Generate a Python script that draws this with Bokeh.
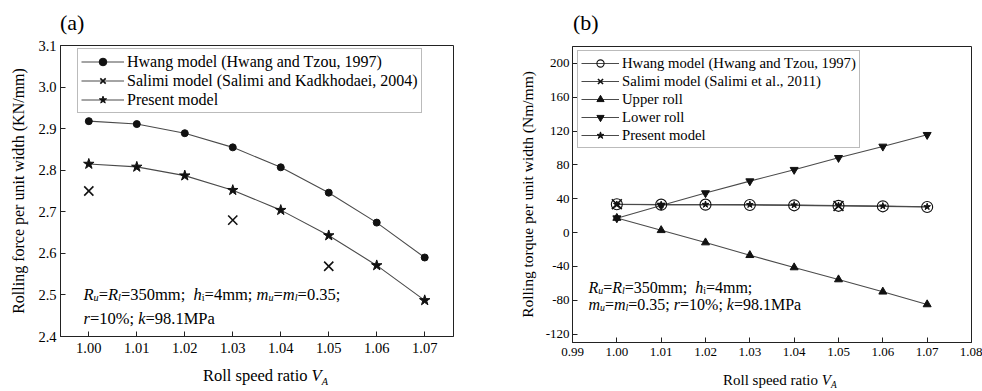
from bokeh.plotting import figure
from bokeh.models import (Range1d, FixedTicker, Label, Legend, LegendItem,
                          NumeralTickFormatter, Div)
from bokeh.layouts import row, column
from bokeh.embed import file_html
from bokeh.resources import INLINE

# ---------------- data ----------------
speed_ratio = [1.00, 1.01, 1.02, 1.03, 1.04, 1.05, 1.06, 1.07]

# panel (a): rolling force per unit width (KN/mm)
force_hwang = [2.918, 2.911, 2.889, 2.855, 2.807, 2.746, 2.674, 2.590]
force_present = [2.815, 2.808, 2.787, 2.752, 2.704, 2.643, 2.571, 2.487]
salimi_a_ratio = [1.00, 1.03, 1.05]
force_salimi = [2.750, 2.680, 2.569]

# panel (b): rolling torque per unit width (Nm/mm)
torque_hwang = [33.4, 33.0, 33.0, 32.6, 32.2, 31.6, 31.0, 30.2]
salimi_b_ratio = [1.00, 1.05]
torque_salimi = [33.5, 31.5]
torque_upper = [17.2, 2.7, -11.8, -26.8, -41.3, -55.5, -70.0, -85.0]
torque_lower = [17.0, 32.0, 46.7, 60.8, 74.3, 88.4, 101.8, 115.6]
torque_present = [33.2, 33.0, 33.2, 33.0, 32.6, 32.0, 31.3, 30.5]

ticks_a_x = [1.00, 1.01, 1.02, 1.03, 1.04, 1.05, 1.06, 1.07]
ticks_a_y = [2.4, 2.5, 2.6, 2.7, 2.8, 2.9, 3.0, 3.1]
ticks_b_x = [0.99, 1.00, 1.01, 1.02, 1.03, 1.04, 1.05, 1.06, 1.07, 1.08]
ticks_b_y = [-120, -80, -40, 0, 40, 80, 120, 160, 200]

FONT = "Liberation Serif"
LINE = "#4a4a4a"
INK = "#111111"

# Times / Liberation Serif advance widths (1/1000 em)
REG = {' ': 250, '%': 833, '(': 333, ')': 333, ',': 250, '-': 333, '.': 250,
       '/': 278, ';': 278, '=': 564, 'A': 722, 'K': 722, 'M': 889, 'N': 722,
       'P': 556, 'R': 667, 'V': 722, 'a': 444, 'd': 500, 'e': 444, 'f': 333,
       'g': 500, 'h': 500, 'i': 278, 'k': 500, 'l': 278, 'm': 778, 'n': 500,
       'o': 500, 'p': 500, 'r': 333, 's': 389, 't': 278, 'u': 500, 'w': 722}
ITA = {'R': 611, 'h': 500, 'i': 278, 'k': 444, 'l': 278, 'm': 722, 'r': 389,
       'u': 500, 'V': 611, 'A': 611}


def tw(s, italic, size):
    tab = ITA if italic else REG
    return sum(tab.get(c, REG.get(c, 500)) for c in s) * size / 1000.0


def rich(p, segs, dx, dy, size):
    """segments placed relative to the frame's bottom-left corner (pixels)"""
    x = dx
    for txt, italic, sub in segs:
        fs = size * 0.62 if sub else size
        yo = dy - (0.24 * size if sub else 0)
        p.add_layout(Label(x=p.x_range.start, y=p.y_range.start,
                           x_offset=x, y_offset=yo, text=txt,
                           text_font=FONT, text_font_size=f"{fs:.1f}px",
                           text_font_style="italic" if italic else "normal",
                           text_baseline="alphabetic", text_align="left",
                           text_color="black"))
        x += tw(txt, italic, fs)


def style(p, tick_size, label_size, xt, yt, xfmt, yfmt, label_standoff):
    p.outline_line_color = "#222222"
    p.outline_line_width = 1
    p.xgrid.visible = False
    p.ygrid.visible = False
    p.background_fill_color = "white"
    p.border_fill_color = "white"
    for ax in (p.xaxis[0], p.yaxis[0]):
        ax.axis_line_color = "#222222"
        ax.major_tick_line_color = "#222222"
        ax.major_tick_in = 5
        ax.major_tick_out = 0
        ax.minor_tick_line_color = None
        ax.major_label_text_font = FONT
        ax.major_label_text_font_size = tick_size
        ax.major_label_text_color = "black"
        ax.axis_label_text_font = FONT
        ax.axis_label_text_font_size = label_size
        ax.axis_label_text_font_style = "normal"
        ax.axis_label_text_color = "black"
    p.xaxis[0].ticker = FixedTicker(ticks=xt)
    p.yaxis[0].ticker = FixedTicker(ticks=yt)
    p.xaxis[0].formatter = NumeralTickFormatter(format=xfmt)
    p.yaxis[0].formatter = NumeralTickFormatter(format=yfmt)
    p.xaxis[0].major_label_standoff = 6
    p.yaxis[0].major_label_standoff = 4
    p.yaxis[0].axis_label_standoff = label_standoff


def html_div(html, width, height, pad_top, pad_left, size):
    return Div(text=(f"<div style=\"font-family:'{FONT}', 'Times New Roman', serif; "
                     f"font-size:{size}px; line-height:{size}px; "
                     f"padding:{pad_top}px 0 0 {pad_left}px; "
                     f"white-space:nowrap; color:black; margin:0;\">{html}</div>"),
               width=width, height=height, margin=0)


SUB = ("<span style=\"font-style:italic; font-size:0.62em; position:relative; "
       "top:0.32em; line-height:0;\">A</span>")
XLABEL = "Roll speed ratio <i>V</i>" + SUB

# ---------------- panel (a) ----------------
pa = figure(width=490, height=327, output_backend="svg", toolbar_location=None,
            x_range=Range1d(0.9941, 1.0760), y_range=Range1d(2.4, 3.1),
            min_border_left=60, min_border_right=37, min_border_top=11,
            min_border_bottom=25)
style(pa, "14.5px", "16px", ticks_a_x, ticks_a_y, "0.00", "0.0", 8)
pa.yaxis[0].axis_label = "Rolling force per unit width (KN/mm)"

la_h = pa.line(speed_ratio, force_hwang, line_color=LINE, line_width=1.1)
ma_h = pa.scatter(speed_ratio, force_hwang, marker="circle", size=7,
                  fill_color=INK, line_color=INK)
la_s = pa.line(salimi_a_ratio, force_salimi, line_color=LINE, line_width=1.1,
               visible=False)
ma_s = pa.scatter(salimi_a_ratio, force_salimi, marker="x", size=13,
                  line_color=INK, line_width=1.6)
la_p = pa.line(speed_ratio, force_present, line_color=LINE, line_width=1.1)
ma_p = pa.scatter(speed_ratio, force_present, marker="star", size=11,
                  fill_color=INK, line_color=INK)

leg_a = Legend(items=[
    LegendItem(label="Hwang model (Hwang and Tzou, 1997)", renderers=[la_h, ma_h]),
    LegendItem(label="Salimi model (Salimi and Kadkhodaei, 2004)", renderers=[la_s, ma_s]),
    LegendItem(label="Present model", renderers=[la_p, ma_p]),
], location=(17, 223), padding=3, spacing=0, label_height=19, glyph_height=19,
    glyph_width=43, label_standoff=3, label_text_font=FONT,
    label_text_font_size="16px", label_text_color="black",
    border_line_color="#777777", border_line_width=1,
    background_fill_color="white", background_fill_alpha=1.0, margin=0)
pa.add_layout(leg_a, "center")

rich(pa, [("R", True, False), ("u", True, True), ("=", False, False),
          ("R", True, False), ("l", True, True), ("=350mm;  ", False, False),
          ("h", True, False), ("i", False, True), ("=4mm; ", False, False),
          ("m", True, False), ("u", True, True), ("=", False, False),
          ("m", True, False), ("l", True, True), ("=0.35;", False, False)],
     23, 42.5, 16.5)
rich(pa, [("r", True, False), ("=10%; ", False, False), ("k", True, False),
          ("=98.1MPa", False, False)], 23, 18, 16.5)

top_a = html_div("(a)", 490, 34, 11.5, 60, 22)
bot_a = html_div(XLABEL, 490, 30, 7.4, 203, 16.5)

# ---------------- panel (b) ----------------
pb = figure(width=492, height=331, output_backend="svg", toolbar_location=None,
            x_range=Range1d(0.99, 1.08), y_range=Range1d(-130, 220),
            min_border_left=82, min_border_right=11, min_border_top=12,
            min_border_bottom=23)
style(pb, "13px", "15.5px", ticks_b_x, ticks_b_y, "0.00", "0", 7)
pb.yaxis[0].axis_label = "Rolling torque per unit width (Nm/mm)"
pb.xaxis[0].major_label_standoff = 5
pb.yaxis[0].major_label_standoff = 3

lb_h = pb.line(speed_ratio, torque_hwang, line_color=LINE, line_width=1.1)
lb_s = pb.line(salimi_b_ratio, torque_salimi, line_color=LINE, line_width=1.1,
               visible=False)
lb_u = pb.line(speed_ratio, torque_upper, line_color=LINE, line_width=1.1)
lb_l = pb.line(speed_ratio, torque_lower, line_color=LINE, line_width=1.1)
lb_p = pb.line(speed_ratio, torque_present, line_color=LINE, line_width=1.1)

mb_h = pb.scatter(speed_ratio, torque_hwang, marker="circle", size=11,
                  fill_alpha=0, line_color=INK, line_width=1.1)
mb_u = pb.scatter(speed_ratio, torque_upper, marker="triangle", size=8,
                  fill_color=INK, line_color=INK)
mb_l = pb.scatter(speed_ratio, torque_lower, marker="inverted_triangle", size=8,
                  fill_color=INK, line_color=INK)
mb_p = pb.scatter(speed_ratio, torque_present, marker="star", size=7,
                  fill_color=INK, line_color=INK)
mb_s = pb.scatter(salimi_b_ratio, torque_salimi, marker="x", size=14,
                  line_color=INK, line_width=1.6)

leg_b = Legend(items=[
    LegendItem(label="Hwang model (Hwang and Tzou, 1997)", renderers=[lb_h, mb_h]),
    LegendItem(label="Salimi model (Salimi et al., 2011)", renderers=[lb_s, mb_s]),
    LegendItem(label="Upper roll", renderers=[lb_u, mb_u]),
    LegendItem(label="Lower roll", renderers=[lb_l, mb_l]),
    LegendItem(label="Present model", renderers=[lb_p, mb_p]),
], location=(5, 194), padding=3, spacing=0, label_height=18, glyph_height=18,
    glyph_width=38, label_standoff=3, label_text_font=FONT,
    label_text_font_size="14.7px", label_text_color="black",
    border_line_color="#777777", border_line_width=1,
    background_fill_color="white", background_fill_alpha=1.0, margin=0)
pb.add_layout(leg_b, "center")

rich(pb, [("R", True, False), ("u", True, True), ("=", False, False),
          ("R", True, False), ("l", True, True), ("=350mm;  ", False, False),
          ("h", True, False), ("i", False, True), ("=4mm;", False, False)],
     16, 55.5, 16)
rich(pb, [("m", True, False), ("u", True, True), ("=", False, False),
          ("m", True, False), ("l", True, True), ("=0.35; ", False, False),
          ("r", True, False), ("=10%; ", False, False), ("k", True, False),
          ("=98.1MPa", False, False)], 16, 38.5, 16)

top_b = html_div("(b)", 492, 34, 11.5, 83, 22)
bot_b = html_div(XLABEL, 492, 26, 8.4, 233, 15)

layout = row(column(top_a, pa, bot_a), column(top_b, pb, bot_b))
open("out.html", "w").write(file_html(layout, INLINE))
